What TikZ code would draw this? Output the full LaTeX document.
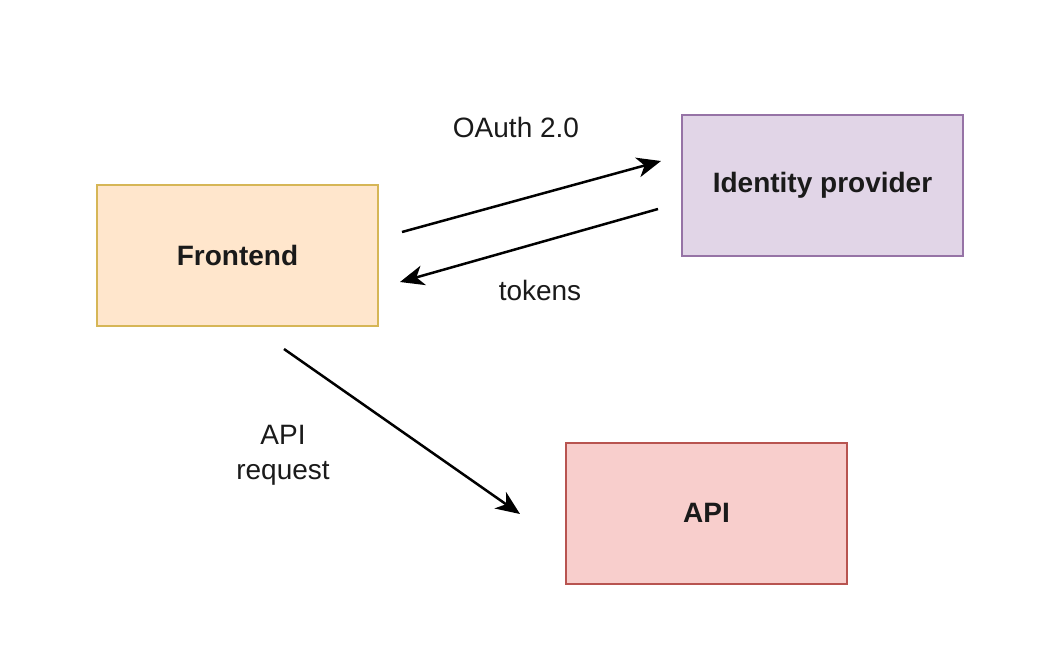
\documentclass[tikz,border=0pt]{standalone}
\usepackage{fontspec}
\setmainfont{Liberation Sans}
\usetikzlibrary{arrows.meta}
\definecolor{feFill}{HTML}{FFE6CC}
\definecolor{feLine}{HTML}{D6B656}
\definecolor{idFill}{HTML}{E1D5E7}
\definecolor{idLine}{HTML}{9673A6}
\definecolor{apiFill}{HTML}{F8CECC}
\definecolor{apiLine}{HTML}{B85450}
\definecolor{txt}{HTML}{1A1A1A}
\tikzset{
  boxnode/.style={draw, line width=2pt, minimum width=281pt, minimum height=141pt, inner sep=0pt, font=\fontsize{28}{32}\selectfont\bfseries, text=txt},
  conn/.style={line width=2.5pt, -{Stealth[length=24pt, width=20pt, inset=7pt]}},
  lbl/.style={font=\fontsize{28}{35}\selectfont, text=txt, align=center, inner sep=0pt}
}
\begin{document}
\begin{tikzpicture}[x=1pt, y=-1pt]
\useasboundingbox (0,0) rectangle (1061,662);
\fill[white] (0,0) rectangle (1061,662);
\node[boxnode, fill=feFill, draw=feLine] (fe) at (237.5,255.5) {Frontend};
\node[boxnode, fill=idFill, draw=idLine] (idp) at (822.5,185.5) {Identity provider};
\node[boxnode, fill=apiFill, draw=apiLine] (api) at (706.5,513) {API};
\coordinate (a1s) at (402,232);
\coordinate (a1e) at (661,161);
\coordinate (a2s) at (658,209);
\coordinate (a2e) at (400,282);
\coordinate (a3s) at (284,349);
\coordinate (a3e) at (520,514);
\draw[conn] (a1s) -- (a1e);
\draw[conn] (a2s) -- (a2e);
\draw[conn] (a3s) -- (a3e);
\node[lbl] (l1) at (516,127) {OAuth 2.0};
\node[lbl] (l2) at (540,290) {tokens};
\node[lbl] (l3) at (283,455) {API\\request};
\end{tikzpicture}
\end{document}
